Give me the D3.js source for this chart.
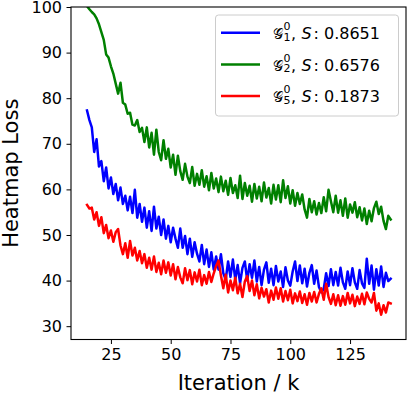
<!DOCTYPE html>
<html>
<head>
<meta charset="utf-8">
<script src="https://cdn.jsdelivr.net/npm/d3@7"></script>
<style>
  html, body { margin: 0; padding: 0; background: #fff; }
  svg { display: block; font-family: "DejaVu Sans", sans-serif; }
</style>
</head>
<body>
<svg id="chart" width="407" height="394"></svg>
<script>
// ---------------------------------------------------------------------------
// Data (one value per 1k iterations from 15k to 142k)
// ---------------------------------------------------------------------------

const iterStart = 15;

const lossG1 = [
  77.3, 75.2, 73.6, 68.2, 71.0, 65.0, 66.2, 61.8, 64.8, 60.2,
  62.6, 59.0, 61.2, 57.6, 60.4, 56.8, 58.6, 55.4, 58.4, 54.8,
  59.9, 53.8, 56.8, 52.9, 56.0, 51.6, 55.2, 50.9, 56.2, 51.4,
  54.0, 50.0, 53.4, 49.2, 52.0, 48.4, 51.6, 49.2, 47.2, 51.4,
  47.2, 49.8, 45.8, 49.2, 45.2, 48.4, 45.9, 44.2, 47.8, 43.6,
  46.8, 43.0, 46.2, 42.4, 45.3, 42.4, 45.8, 41.6, 40.2, 44.2,
  40.8, 44.6, 40.2, 43.4, 39.4, 42.8, 44.2, 40.0, 43.6, 40.6,
  44.4, 39.8, 43.0, 39.0, 42.4, 44.0, 39.5, 42.6, 39.0, 43.2,
  39.8, 42.0, 38.6, 42.9, 40.0, 38.9, 42.0, 44.2, 39.9, 43.3,
  39.4, 42.6, 38.7, 41.7, 43.4, 39.3, 42.2, 38.6, 37.4, 38.2,
  41.6, 38.8, 42.5, 39.0, 41.9, 38.9, 42.8, 39.6, 38.2, 42.0,
  39.0, 42.7, 39.6, 38.2, 42.3, 39.4, 38.4, 44.8, 39.3, 43.3,
  38.0, 42.5, 38.9, 43.1, 38.6, 41.7, 39.9, 40.4
];

const lossG2 = [
  100.2, 99.5, 98.9, 98.4, 97.5, 96.2, 94.5, 92.8, 89.6, 88.9,
  87.0, 85.4, 83.2, 81.0, 83.4, 79.0, 78.6, 76.6, 76.8, 74.2,
  74.0, 75.2, 72.6, 73.5, 70.4, 73.6, 69.2, 72.4, 67.6, 73.1,
  68.2, 66.4, 70.8, 66.7, 68.9, 64.8, 67.6, 63.2, 67.4, 64.0,
  62.1, 65.6, 62.8, 61.4, 64.9, 60.8, 63.4, 61.0, 64.2, 60.6,
  62.9, 59.8, 63.6, 60.2, 62.4, 59.4, 62.8, 59.6, 61.9, 58.8,
  62.5, 59.2, 60.9, 58.1, 63.0, 57.9, 61.4, 58.6, 60.8, 57.3,
  61.2, 58.0, 60.6, 57.4, 61.5, 58.2, 60.3, 56.9, 61.0, 57.8,
  60.9, 57.2, 62.0, 58.1, 60.7, 56.9, 59.8, 56.4, 59.2, 56.8,
  58.9, 55.6, 53.8, 57.9, 55.0, 57.4, 54.5, 57.0, 54.8, 58.3,
  55.2, 59.9, 57.4, 55.0, 58.6, 54.9, 57.6, 54.2, 58.0, 53.8,
  56.7, 54.9, 57.2, 53.9, 56.1, 53.2, 55.8, 52.4, 55.3, 53.0,
  55.9, 57.3, 54.6, 56.2, 53.1, 51.3, 54.2, 53.4
];

const lossG5 = [
  56.6, 55.8, 56.0, 53.4, 55.0, 52.0, 53.9, 50.4, 52.2, 49.3,
  51.0, 48.5, 50.6, 51.3, 47.7, 45.8, 48.2, 45.0, 48.7, 45.5,
  47.2, 44.4, 46.5, 43.8, 45.8, 42.8, 45.0, 42.4, 45.3, 41.9,
  43.9, 41.4, 44.4, 41.7, 44.0, 41.1, 43.6, 40.3, 43.0, 40.7,
  39.4, 42.7, 40.1, 42.3, 39.2, 41.8, 39.8, 42.4, 39.0, 41.2,
  39.3, 41.9, 39.7, 41.6, 43.2, 44.4, 41.1, 38.3, 41.3, 37.4,
  40.0, 37.9, 40.6, 37.2, 39.3, 36.4, 39.8, 41.0, 37.7, 40.0,
  36.8, 39.2, 36.1, 38.4, 36.5, 38.1, 35.2, 37.8, 35.8, 38.5,
  36.0, 38.3, 35.4, 37.7, 35.7, 38.0, 35.0, 37.2, 35.5, 37.6,
  35.1, 37.0, 34.7, 37.3, 35.4, 37.5, 35.2, 37.1, 38.3, 35.8,
  39.3, 36.4, 34.9, 37.0, 34.6, 36.8, 34.5, 36.6, 34.7, 37.3,
  35.0, 36.9, 34.4, 36.5, 34.9, 37.1, 34.8, 37.4, 36.0, 35.2,
  37.3, 33.4, 35.0, 32.5, 34.6, 33.0, 35.2, 35.0
];

const seriesNames = ["1", "2", "5"];
const seriesScores = ["0.8651", "0.6576", "0.1873"];
const seriesColors = ["#0000ff", "#008000", "#ff0000"];
const seriesValues = [lossG1, lossG2, lossG5];

const xTicks = [25, 50, 75, 100, 125];
const yTicks = [30, 40, 50, 60, 70, 80, 90, 100];

// ---------------------------------------------------------------------------
// Layout
// ---------------------------------------------------------------------------

const margin = { left: 71, right: 1, top: 7, bottom: 54.5 };
const W = 407, H = 394;
const plotW = W - margin.left - margin.right;
const plotH = H - margin.top - margin.bottom;

const svg = d3.select("#chart");

const x = d3.scaleLinear().domain([8.3, 148.4]).range([0, plotW]);
const y = d3.scaleLinear().domain([27.08, 100]).range([plotH, 0]);

const root = svg.append("g")
  .attr("transform", `translate(${margin.left},${margin.top})`);

svg.append("defs").append("clipPath")
  .attr("id", "plot-clip")
  .append("rect")
  .attr("width", plotW)
  .attr("height", plotH);

// Lines
const line = d3.line()
  .x((d, i) => x(iterStart + i))
  .y((d) => y(d));

const lineGroup = root.append("g").attr("clip-path", "url(#plot-clip)");
seriesValues.forEach((vals, k) => {
  lineGroup.append("path")
    .datum(vals)
    .attr("d", line)
    .attr("fill", "none")
    .attr("stroke", seriesColors[k])
    .attr("stroke-width", 2.5)
    .attr("stroke-linejoin", "round")
    .attr("stroke-linecap", "square");
});

// Axes
const xAxis = root.append("g")
  .attr("transform", `translate(0,${plotH})`)
  .call(d3.axisBottom(x).tickValues(xTicks).tickSize(4.5).tickPadding(4.5));
const yAxis = root.append("g")
  .call(d3.axisLeft(y).tickValues(yTicks).tickSize(4.5).tickPadding(4.5));

[xAxis, yAxis].forEach((ax) => {
  ax.select(".domain").remove();
  ax.selectAll("line").attr("stroke", "#000").attr("stroke-width", 1);
  ax.selectAll("text")
    .attr("fill", "#000")
    .style("font-family", "DejaVu Sans")
    .style("font-size", "16px");
});

// Frame
root.append("rect")
  .attr("width", plotW)
  .attr("height", plotH)
  .attr("fill", "none")
  .attr("stroke", "#000")
  .attr("stroke-width", 1.1);

// Axis labels
svg.append("text")
  .attr("x", margin.left + plotW / 2)
  .attr("y", 389.5)
  .attr("text-anchor", "middle")
  .style("font-size", "21px")
  .text("Iteration / k");

svg.append("text")
  .attr("transform", `translate(17.5,${margin.top + plotH / 2}) rotate(-90)`)
  .attr("text-anchor", "middle")
  .style("font-size", "21px")
  .text("Heatmap Loss");

// ---------------------------------------------------------------------------
// Legend
// ---------------------------------------------------------------------------

const legend = svg.append("g");
legend.append("rect")
  .attr("x", 215.5)
  .attr("y", 15)
  .attr("width", 183)
  .attr("height", 101)
  .attr("rx", 3)
  .attr("fill", "rgba(255,255,255,0.8)")
  .attr("stroke", "#cccccc")
  .attr("stroke-width", 1);

seriesNames.forEach((name, k) => {
  const base = 39 + k * 31.7;
  legend.append("line")
    .attr("x1", 221).attr("x2", 260)
    .attr("y1", base - 6.3).attr("y2", base - 6.3)
    .attr("stroke", seriesColors[k])
    .attr("stroke-width", 2.5);

  const g = legend.append("g");
  const gx = 272.5;
  // calligraphic G squeezed to the width the reference glyph takes
  g.append("text")
    .attr("x", gx).attr("y", base)
    .attr("textLength", 10.5)
    .attr("lengthAdjust", "spacingAndGlyphs")
    .style("font-size", "15px")
    .text("𝒢");
  const sx = gx + 11;
  g.append("text")
    .attr("x", sx).attr("y", base - 9)
    .style("font-size", "11px")
    .text("0");
  g.append("text")
    .attr("x", sx).attr("y", base + 1.5)
    .style("font-size", "11px")
    .text(name);
  g.append("text")
    .attr("x", sx + 7.5).attr("y", base)
    .style("font-size", "16px")
    .text(",");
  g.append("text")
    .attr("x", 301.5).attr("y", base)
    .style("font-size", "16px")
    .style("font-style", "italic")
    .text("S");
  g.append("text")
    .attr("x", 313.5).attr("y", base)
    .style("font-size", "16px")
    .text(": " + seriesScores[k]);
});
</script>
</body>
</html>
